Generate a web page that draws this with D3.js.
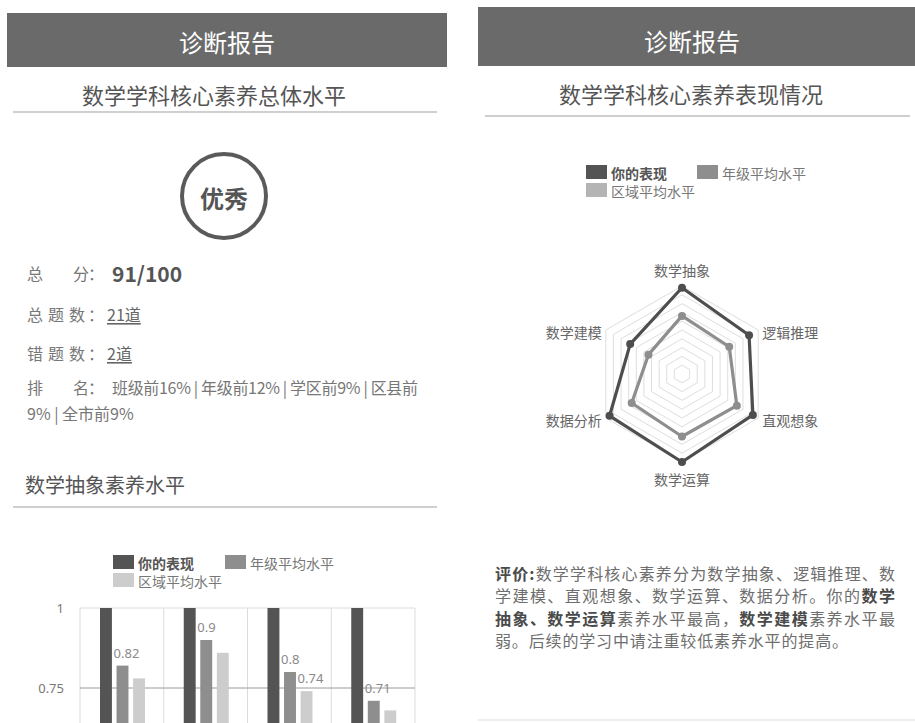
<!DOCTYPE html>
<html>
<head>
<meta charset="utf-8">
<script src="https://cdn.jsdelivr.net/npm/d3@7"></script>
<style>
body { margin: 0; background: #fff; }
svg { display: block; font-family: "Noto Sans CJK SC", "Noto Sans", sans-serif; }
</style>
</head>
<body>
<div id="page"></div>
<script>
// bar chart data (数学抽象素养水平)
var barCategories = ["维度一", "维度二", "维度三", "维度四"];
var seriesNames = ["你的表现", "年级平均水平", "区域平均水平"];
var yourScores = [1, 1, 1, 1];
var gradeScores = [0.82, 0.9, 0.8, 0.71];
var regionScores = [0.78, 0.86, 0.74, 0.68];
var gradeLabelShown = [true, true, true, true];
var regionLabelShown = [false, false, true, false];
var barTicks = [0.75, 1];

// radar data (核心素养表现情况)
var radarAxes = ["数学抽象", "逻辑推理", "直观想象", "数学运算", "数据分析", "数学建模"];
var yourRadar = [0.98, 0.88, 0.93, 1.0, 0.95, 0.68];
var gradeRadar = [0.66, 0.62, 0.72, 0.71, 0.66, 0.44];
var radarLevels = [0.1, 0.2, 0.3, 0.4, 0.5, 0.6, 0.7, 0.8, 0.9, 1.0];

// summary texts
var infoLabels = [["总", "分"], ["总", "题", "数"], ["错", "题", "数"], ["排", "名"]];
var infoValues = ["91/100", "21道", "2道", "班级前16% | 年级前12% | 学区前9% | 区县前", "9% | 全市前9%"];
var commentLines = [
    [["评价:", "head"], ["数学学科核心素养分为数学抽象、逻辑推理、数", ""]],
    [["学建模、直观想象、数学运算、数据分析。你的", ""], ["数学", "b"]],
    [["抽象、", "b"], ["数学运算", "b"], ["素养水平最高，", ""], ["数学建模", "b"], ["素养水平最", ""]],
    [["弱。后续的学习中请注重较低素养水平的提高。", ""]]
];

var colors = ["#545454", "#8e8e8e", "#cdcdcd"];
var radarLegendColors = ["#545454", "#8e8e8e", "#b4b4b4"];

var svg = d3.select("#page").append("svg")
    .attr("width", 915)
    .attr("height", 723);

// ---------- headers ----------
function header(x, y, w, h, cx, cy) {
    svg.append("rect").attr("x", x).attr("y", y).attr("width", w).attr("height", h).attr("fill", "#6a6a6a");
    svg.append("text").attr("x", cx).attr("y", cy)
        .attr("text-anchor", "middle").attr("dominant-baseline", "central")
        .attr("fill", "#fff").style("font-size", "24px").text("诊断报告");
}
header(7, 13, 440, 54, 227, 41);
header(478, 7, 437, 59, 692, 40);

function subtitle(txt, cx, cy, x1, x2, ly) {
    svg.append("text").attr("x", cx).attr("y", cy)
        .attr("text-anchor", "middle").attr("dominant-baseline", "central")
        .attr("fill", "#555").style("font-size", "22px").text(txt);
    svg.append("line").attr("x1", x1).attr("x2", x2).attr("y1", ly).attr("y2", ly)
        .attr("stroke", "#cfcfcf").attr("stroke-width", 2);
}
subtitle("数学学科核心素养总体水平", 214, 94, 13, 437, 112);
subtitle("数学学科核心素养表现情况", 691, 93, 485, 910, 116);

// ---------- left: overall level ----------
svg.append("circle").attr("cx", 224).attr("cy", 196).attr("r", 42)
    .attr("fill", "none").attr("stroke", "#5a5a5a").attr("stroke-width", 4);
svg.append("text").attr("x", 224).attr("y", 197)
    .attr("text-anchor", "middle").attr("dominant-baseline", "central")
    .attr("fill", "#555").style("font-size", "24px").style("font-weight", "bold").text("优秀");

var rowY = [273, 314, 353, 387];
infoLabels.forEach(function (chars, i) {
    var xs = chars.length === 2 ? [27, 73] : [27, 48, 69];
    chars.forEach(function (c, j) {
        svg.append("text").attr("x", xs[j]).attr("y", rowY[i]).attr("dominant-baseline", "central")
            .attr("fill", "#777").style("font-size", "16px").text(c);
    });
    svg.append("text").attr("x", 88).attr("y", rowY[i]).attr("dominant-baseline", "central")
        .attr("fill", "#777").style("font-size", "16px").text("：");
});
svg.append("text").attr("x", 112).attr("y", rowY[0]).attr("dominant-baseline", "central")
    .attr("fill", "#555").style("font-size", "21px").style("font-weight", "600").text(infoValues[0]);
[1, 2].forEach(function (i) {
    svg.append("text").attr("x", 107).attr("y", rowY[i]).attr("dominant-baseline", "central")
        .attr("fill", "#666").style("font-size", "16px")
        .style("text-decoration", "underline").text(infoValues[i]);
});
svg.append("text").attr("x", 112).attr("y", rowY[3]).attr("dominant-baseline", "central")
    .attr("fill", "#777").style("font-size", "16px")
    .attr("textLength", 306).attr("lengthAdjust", "spacing").text(infoValues[3]);
svg.append("text").attr("x", 27).attr("y", 413).attr("dominant-baseline", "central")
    .attr("fill", "#777").style("font-size", "16px").text(infoValues[4]);

svg.append("text").attr("x", 25).attr("y", 484).attr("dominant-baseline", "central")
    .attr("fill", "#555").style("font-size", "20px").text("数学抽象素养水平");
svg.append("line").attr("x1", 13).attr("x2", 437).attr("y1", 507).attr("y2", 507)
    .attr("stroke", "#cfcfcf").attr("stroke-width", 2);

// ---------- left: bar chart ----------
function legend(g, x0, y0, x1, y1, fill, fs) {
    var pos = [[x0, y0], [x1, y0], [x0, y1]];
    seriesNames.forEach(function (s, i) {
        g.append("rect").attr("x", pos[i][0]).attr("y", pos[i][1])
            .attr("width", 21).attr("height", 14).attr("fill", fill[i]);
        g.append("text").attr("x", pos[i][0] + 25).attr("y", pos[i][1] + 7.5)
            .attr("dominant-baseline", "central")
            .attr("fill", i === 0 ? "#555" : "#777").style("font-size", fs)
            .style("font-weight", i === 0 ? "bold" : "normal").text(s);
    });
}
legend(svg, 113, 555, 225, 573, colors, "14px");

var plotL = 80, plotR = 415;
var x0 = d3.scaleBand().domain(barCategories).range([plotL, plotR]);
var x1 = d3.scaleBand().domain(seriesNames).range([20, 65]).paddingInner(0.28);
var y = d3.scaleLinear().domain([0, 1]).range([928, 608]);

var chart = svg.append("g");
// vertical grid lines at band borders
var borders = barCategories.map(function (c) { return x0(c); }).concat([plotR]);
chart.selectAll(".vgrid").data(borders).enter().append("line")
    .attr("x1", function (d) { return d; }).attr("x2", function (d) { return d; })
    .attr("y1", y(1)).attr("y2", y(0))
    .attr("stroke", "#dcdcdc");
chart.selectAll(".hgrid").data(barTicks).enter().append("line")
    .attr("x1", plotL).attr("x2", plotR)
    .attr("y1", function (d) { return y(d); }).attr("y2", function (d) { return y(d); })
    .attr("stroke", function (d) { return d === 1 ? "#dcdcdc" : "#9a9a9a"; });

var yAxis = chart.append("g")
    .attr("transform", "translate(" + plotL + ",0)")
    .call(d3.axisLeft(y).tickValues(barTicks).tickSize(0).tickPadding(16)
        .tickFormat(function (d) { return d3.format("~g")(d); }));
yAxis.select(".domain").remove();
yAxis.selectAll("text").attr("fill", "#777").style("font-size", "13px")
    .style("font-family", "\"Noto Sans\", sans-serif");

var rows = barCategories.map(function (c, i) {
    return {cat: c, vals: [
        {s: seriesNames[0], v: yourScores[i], label: false},
        {s: seriesNames[1], v: gradeScores[i], label: gradeLabelShown[i]},
        {s: seriesNames[2], v: regionScores[i], label: regionLabelShown[i]}
    ]};
});
var groups = chart.selectAll(".grp").data(rows).enter().append("g")
    .attr("transform", function (d) { return "translate(" + x0(d.cat) + ",0)"; });
groups.selectAll("rect").data(function (d) { return d.vals; }).enter().append("rect")
    .attr("x", function (d) { return x1(d.s); })
    .attr("width", x1.bandwidth())
    .attr("y", function (d) { return y(d.v); })
    .attr("height", function (d) { return y(0) - y(d.v); })
    .attr("fill", function (d, i) { return colors[i]; });
groups.selectAll(".lbl").data(function (d) { return d.vals.filter(function (v) { return v.label; }); })
    .enter().append("text")
    .attr("x", function (d) { return x1(d.s) - 3; })
    .attr("y", function (d) { return y(d.v) - 13; })
    .attr("dominant-baseline", "central")
    .attr("fill", "#8a8a8a").style("font-size", "13px")
    .style("font-family", "\"Noto Sans\", sans-serif")
    .text(function (d) { return d.v; });

// ---------- right: radar ----------
legend(svg, 586, 165, 697, 183, radarLegendColors, "14px");

var cx = 682, cy = 374;
var r = d3.scaleLinear().domain([0, 1]).range([0, 88]);
var step = 2 * Math.PI / radarAxes.length;
var radar = svg.append("g").attr("transform", "translate(" + cx + "," + cy + ")");

var ringLine = d3.lineRadial()
    .angle(function (d, i) { return i * step; })
    .radius(function (d) { return r(d); })
    .curve(d3.curveLinearClosed);

radar.selectAll(".ring").data(radarLevels).enter().append("path")
    .attr("d", function (lv) { return ringLine(radarAxes.map(function () { return lv; })); })
    .attr("fill", "none").attr("stroke", "#dedede").attr("stroke-width", 1);

function pt(v, i) {
    var a = i * step;
    return [r(v) * Math.sin(a), -r(v) * Math.cos(a)];
}

[[gradeRadar, colors[1]], [yourRadar, "#4e4e4e"]].forEach(function (s) {
    radar.append("path").attr("d", ringLine(s[0]))
        .attr("fill", "none").attr("stroke", s[1]).attr("stroke-width", 3.2)
        .attr("stroke-linejoin", "round");
    radar.selectAll(null).data(s[0]).enter().append("circle")
        .attr("cx", function (d, i) { return pt(d, i)[0]; })
        .attr("cy", function (d, i) { return pt(d, i)[1]; })
        .attr("r", 4).attr("fill", s[1]);
});

radar.selectAll(".axlbl").data(radarAxes).enter().append("text")
    .attr("x", function (d, i) {
        var p = pt(1, i);
        return Math.abs(p[0]) < 1 ? p[0] : p[0] + (p[0] > 0 ? 4 : -4);
    })
    .attr("y", function (d, i) {
        var p = pt(1, i);
        if (Math.abs(p[0]) < 1) return p[1] + (p[1] < 0 ? -16 : 17);
        return p[1] + 2;
    })
    .attr("text-anchor", function (d, i) {
        var p = pt(1, i);
        return Math.abs(p[0]) < 1 ? "middle" : (p[0] > 0 ? "start" : "end");
    })
    .attr("dominant-baseline", "central")
    .attr("fill", "#666").style("font-size", "14px")
    .text(function (d) { return d; });

// ---------- right: comment ----------
var lineY = [573, 595, 618, 640];
commentLines.forEach(function (parts, i) {
    var t = svg.append("text").attr("x", 495).attr("y", lineY[i])
        .attr("dominant-baseline", "central").style("font-size", "16px");
    if (i < commentLines.length - 1) t.attr("textLength", 400).attr("lengthAdjust", "spacing");
    else t.attr("textLength", 353).attr("lengthAdjust", "spacing");
    parts.forEach(function (p) {
        t.append("tspan").text(p[0])
            .attr("fill", p[1] === "" ? "#6e6e6e" : "#4a4a4a")
            .style("font-weight", p[1] === "" ? "normal" : "bold");
    });
});
svg.append("line").attr("x1", 478).attr("x2", 915).attr("y1", 720).attr("y2", 720)
    .attr("stroke", "#eeeeee").attr("stroke-width", 2);
</script>
</body>
</html>
